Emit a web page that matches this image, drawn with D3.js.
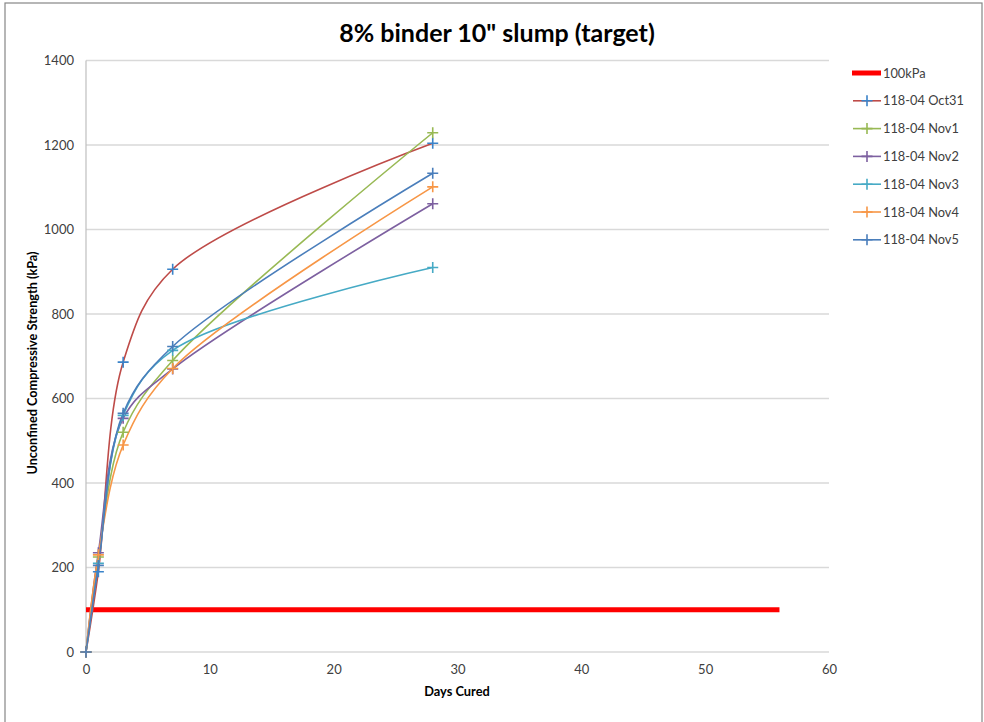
<!DOCTYPE html>
<html>
<head>
<meta charset="utf-8">
<script src="https://cdnjs.cloudflare.com/ajax/libs/d3/7.8.5/d3.min.js"></script>
<style>
  body { margin: 0; background: #fff; }
  svg text { font-family: Lato, "Open Sans", sans-serif; fill: #404040; }
</style>
</head>
<body>
<div id="chart"></div>
<script>
// data
var days = [0, 1, 3, 7, 28];
var seriesNames = ["118-04 Oct31", "118-04 Nov1", "118-04 Nov2", "118-04 Nov3", "118-04 Nov4", "118-04 Nov5"];
var oct31 = [0, 190, 686, 906, 1204];
var nov1 = [0, 225, 520, 690, 1229];
var nov2 = [0, 235, 553, 670, 1061];
var nov3 = [0, 210, 560, 714, 910];
var nov4 = [0, 230, 490, 671, 1101];
var nov5 = [0, 205, 565, 723, 1133];
var refDays = [0, 56];
var refValue = [100, 100];
var xTicks = [0, 10, 20, 30, 40, 50, 60];
var yTicks = [0, 200, 400, 600, 800, 1000, 1200, 1400];

var lineColors = ["#be4b48", "#98b954", "#7d60a0", "#46aac5", "#f79646", "#4a7ebb"];
var markColors = ["#3a83c9", "#98b954", "#7d60a0", "#46aac5", "#f79646", "#4a7ebb"];
var allValues = [oct31, nov1, nov2, nov3, nov4, nov5];

var W = 984, H = 722;
var svg = d3.select("#chart").append("svg").attr("width", W).attr("height", H);

// outer frame
svg.append("rect").attr("x", 5).attr("y", 3).attr("width", 977).attr("height", 730)
	.attr("fill", "none").attr("stroke", "#868686").attr("stroke-width", 1.2);

var x = d3.scaleLinear().domain([0, 60]).range([86, 829]);
var y = d3.scaleLinear().domain([0, 1400]).range([652, 60.5]);

// gridlines
svg.append("g").selectAll("line").data(yTicks).join("line")
	.attr("x1", x(0)).attr("x2", x(60))
	.attr("y1", function(d){ return y(d); }).attr("y2", function(d){ return y(d); })
	.attr("stroke", "#d9d9d9").attr("stroke-width", 1.5);

// y axis line
svg.append("line").attr("x1", x(0)).attr("x2", x(0)).attr("y1", y(0)).attr("y2", y(1400))
	.attr("stroke", "#bfbfbf").attr("stroke-width", 1.2);

var yAxis = d3.axisLeft(y).tickValues(yTicks).tickFormat(d3.format("d")).tickSize(0).tickPadding(12);
var gy = svg.append("g").attr("transform", "translate(" + x(0) + ",0)").call(yAxis);
gy.select(".domain").remove();
gy.selectAll("text").style("font-size", "13px").style("fill", "#404040");

var xAxis = d3.axisBottom(x).tickValues(xTicks).tickFormat(d3.format("d")).tickSize(0).tickPadding(13);
var gx = svg.append("g").attr("transform", "translate(0," + y(0) + ")").call(xAxis);
gx.select(".domain").remove();
gx.selectAll("text").style("font-size", "13px").style("fill", "#404040");

// titles
svg.append("text").attr("x", 497).attr("y", 42).attr("text-anchor", "middle")
	.style("font-size", "25px").style("font-weight", "bold").style("fill", "#000")
	.text('8% binder 10" slump (target)');
svg.append("text").attr("x", 457).attr("y", 696).attr("text-anchor", "middle")
	.style("font-size", "12.8px").style("font-weight", "bold").style("fill", "#000")
	.text("Days Cured");
svg.append("text").attr("transform", "translate(37,363) rotate(-90)").attr("text-anchor", "middle")
	.style("font-size", "12.7px").style("font-weight", "bold").style("fill", "#000")
	.text("Unconfined Compressive Strength (kPa)");

// 100kPa line
svg.append("path").datum(refDays.map(function(d, i){ return [d, refValue[i]]; }))
	.attr("d", d3.line().x(function(d){ return x(d[0]); }).y(function(d){ return y(d[1]); }))
	.attr("fill", "none").attr("stroke", "#ff0000").attr("stroke-width", 5);

var smooth = d3.line().curve(d3.curveCatmullRom.alpha(0.5))
	.x(function(d){ return x(d[0]); }).y(function(d){ return y(d[1]); });

function plus(g, cx, cy, color){
	g.append("path").attr("d", "M" + (cx - 5.5) + "," + cy + "H" + (cx + 5.5) + "M" + cx + "," + (cy - 5.5) + "V" + (cy + 5.5))
		.attr("stroke", color).attr("stroke-width", 1.6).attr("fill", "none");
}

allValues.forEach(function(vals, i){
	var pts = days.map(function(d, j){ return [d, vals[j]]; });
	svg.append("path").datum(pts).attr("d", smooth)
		.attr("fill", "none").attr("stroke", lineColors[i]).attr("stroke-width", 1.6);
});
allValues.forEach(function(vals, i){
	var g = svg.append("g");
	days.forEach(function(d, j){ plus(g, x(d), y(vals[j]), markColors[i]); });
});

// legend
var leg = svg.append("g");
var ly0 = 73, lstep = 27.8;
leg.append("line").attr("x1", 852).attr("x2", 881).attr("y1", ly0).attr("y2", ly0)
	.attr("stroke", "#ff0000").attr("stroke-width", 5);
leg.append("text").attr("x", 883).attr("y", ly0 + 4.5).style("font-size", "12.8px").text("100kPa");
seriesNames.forEach(function(name, i){
	var ly = ly0 + lstep * (i + 1);
	leg.append("line").attr("x1", 853).attr("x2", 881).attr("y1", ly).attr("y2", ly)
		.attr("stroke", lineColors[i]).attr("stroke-width", 1.6);
	plus(leg, 867, ly, markColors[i]);
	leg.append("text").attr("x", 883).attr("y", ly + 4.5).style("font-size", "12.8px").text(name);
});
</script>
</body>
</html>
